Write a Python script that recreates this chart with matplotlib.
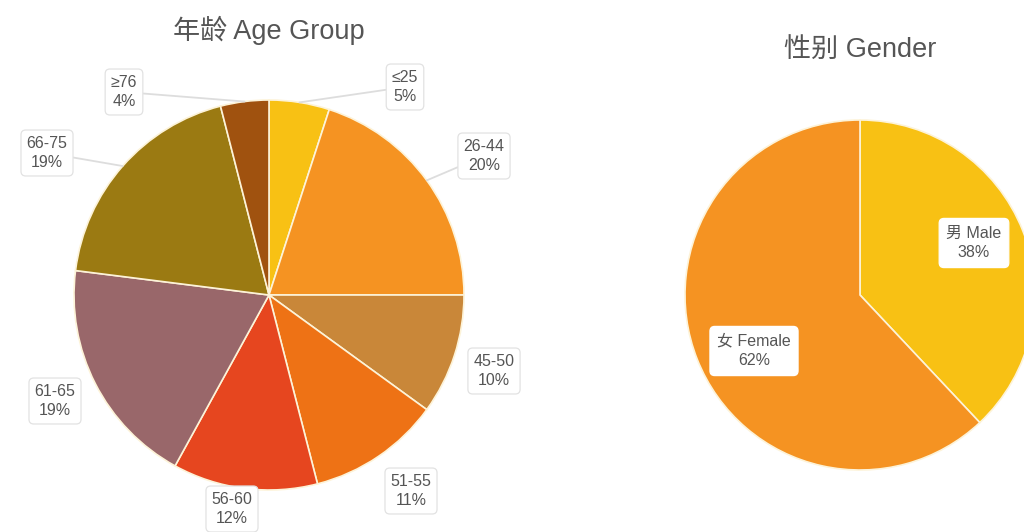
import numpy as np
import matplotlib
matplotlib.use('Agg')
import matplotlib.pyplot as plt

# data
age_groups = ['≤25', '26-44', '45-50', '51-55', '56-60', '61-65', '66-75', '≥76']
age_pct = [5, 20, 10, 11, 12, 19, 19, 4]
age_colors = ['#F8C114', '#F59322', '#C98739', '#EE7215', '#E6461F',
              '#99676A', '#9B7A12', '#A0520F']

gender_groups = ['男 Male', '女 Female']
gender_pct = [38, 62]
gender_colors = ['#F8C114', '#F59322']

# layout (pixel coords, y measured from top)
W, H = 1024, 532
age_center, age_radius = (269, 295), 195
gen_center, gen_radius = (860, 295), 175
age_label_xy = [(405, 87), (484, 156), (494, 371), (411, 491),
                (232, 509), (55, 401), (47, 153), (124, 92)]
age_leader = [True, True, False, False, False, False, True, True]
gen_label_xy = [(974, 243), (754, 351)]

FONT = ['Liberation Sans', 'Noto Sans CJK SC', 'DejaVu Sans']
TXT = '#555555'

fig = plt.figure(figsize=(W / 100, H / 100), dpi=100)
ax = fig.add_axes([0, 0, 1, 1])

wedge_kw = dict(edgecolor='#FDF3D8', linewidth=1.2)
ax.pie(age_pct, colors=age_colors, startangle=90, counterclock=False,
       center=(age_center[0], H - age_center[1]), radius=age_radius,
       wedgeprops=wedge_kw)
ax.pie(gender_pct, colors=gender_colors, startangle=90, counterclock=False,
       center=(gen_center[0], H - gen_center[1]), radius=gen_radius,
       wedgeprops=wedge_kw)

ax.set_xlim(0, W)
ax.set_ylim(0, H)
ax.set_aspect('equal')
ax.axis('off')

# age labels with leader lines from the wedge middle
box = dict(boxstyle='round,pad=0.35,rounding_size=0.3', fc='white',
           ec='#E2E2E2', lw=0.9)
cum = np.cumsum([0] + age_pct[:-1])
for i, (name, p) in enumerate(zip(age_groups, age_pct)):
    mid = np.deg2rad(90 - 3.6 * (cum[i] + p / 2))
    ex = age_center[0] + age_radius * np.cos(mid)
    ey = H - age_center[1] + age_radius * np.sin(mid)
    tx, ty = age_label_xy[i]
    arrow = dict(arrowstyle='-', color='#DDDDDD', lw=1.3,
                 shrinkA=0, shrinkB=0) if age_leader[i] else None
    ax.annotate(f'{name}\n{p}%', xy=(ex, ey), xytext=(tx, H - ty),
                ha='center', va='center', fontsize=11.5, color=TXT,
                family=FONT, linespacing=1.4, bbox=box, arrowprops=arrow)

gbox = dict(boxstyle='round,pad=0.45,rounding_size=0.3', fc='white',
            ec='white', lw=0.9)
for (name, p), (tx, ty) in zip(zip(gender_groups, gender_pct), gen_label_xy):
    ax.text(tx, H - ty, f'{name}\n{p}%', ha='center', va='center',
            fontsize=11.5, color=TXT, family=FONT, linespacing=1.4,
            bbox=gbox)

ax.text(269, H - 30, '年龄 Age Group', ha='center', va='center',
        fontsize=19.5, color=TXT, family=FONT)
ax.text(860, H - 51, '性别 Gender', ha='center', va='center',
        fontsize=19.5, color=TXT, family=FONT)

fig.savefig('out.png', dpi=100)
